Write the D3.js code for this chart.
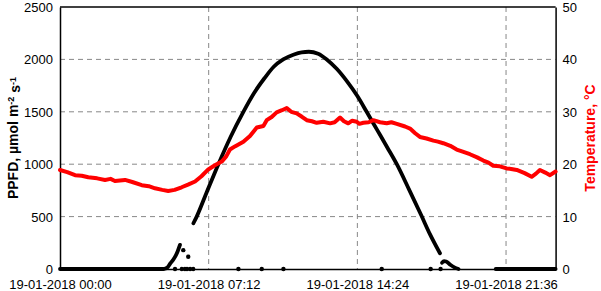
<!DOCTYPE html>
<html>
<head>
<meta charset="utf-8">
<script src="https://cdn.jsdelivr.net/npm/d3@7"></script>
<style>
  body { margin: 0; background: #fff; }
  text { font-family: Arial, "Liberation Sans", sans-serif; }
</style>
</head>
<body>
<div id="chart"></div>
<script>
// PPFD (black) - hours after midnight and values, split in the runs that are drawn joined
var nightHours1 = [0, 5.0];
var nightValues1 = [0, 0];
var riseHours = [5.0, 5.2, 5.33, 5.45, 5.57, 5.7, 5.81];
var riseValues = [0, 15, 50, 80, 115, 170, 230];
var dayHours = [6.46, 6.62, 7.1, 7.67, 8.26, 8.88, 9.4, 9.9, 10.35, 10.81, 11.3, 11.7, 12.05, 12.5, 12.92, 13.4, 13.9, 14.4, 14.85, 15.35, 15.85, 16.31, 16.9, 17.5, 17.92, 18.4];
var dayValues = [436, 500, 730, 1000, 1260, 1500, 1680, 1820, 1930, 2000, 2045, 2068, 2073, 2055, 2000, 1910, 1790, 1650, 1500, 1330, 1160, 1000, 760, 510, 330, 150];
var bumpHours = [18.5, 18.6, 18.7, 18.9, 19.1, 19.3];
var bumpValues = [60, 75, 72, 40, 15, 0];
var nightHours2 = [21.1, 24];
var nightValues2 = [0, 0];
// single logged points
var dotHours = [5.57, 5.9, 5.97, 6.05, 6.15, 6.21, 6.3, 6.45, 8.64, 9.77, 10.82, 15.58, 17.95, 18.43];
var dotValues = [0, 0, 180, 0, 0, 117, 0, 0, 0, 0, 0, 0, 0, 0];

// Temperature (red)
var tempHours = [0.0, 0.35, 0.73, 1.05, 1.37, 1.8, 2.18, 2.45, 2.66, 2.9, 3.15, 3.5, 3.96, 4.3, 4.6, 4.95, 5.24, 5.55, 5.89, 6.2, 6.54, 6.85, 7.18, 7.5, 7.83, 8.05, 8.23, 8.47, 8.88, 9.2, 9.53, 9.85, 10.01, 10.25, 10.49, 10.75, 10.98, 11.2, 11.46, 11.7, 11.95, 12.2, 12.43, 12.75, 13.08, 13.3, 13.56, 13.75, 13.96, 14.15, 14.37, 14.5, 14.69, 14.95, 15.17, 15.5, 15.82, 16.05, 16.31, 16.71, 16.95, 17.2, 17.43, 17.75, 18.08, 18.3, 18.56, 18.9, 19.21, 19.5, 19.85, 20.2, 20.5, 20.75, 20.98, 21.3, 21.63, 21.85, 22.12, 22.5, 22.84, 23.05, 23.24, 23.5, 23.73, 24.0];
var tempValues = [18.9, 18.5, 17.9, 17.8, 17.5, 17.3, 17.0, 17.2, 16.8, 16.9, 17.0, 16.6, 16.0, 15.8, 15.4, 15.1, 14.9, 15.1, 15.6, 16.1, 16.7, 17.7, 19.0, 19.8, 20.5, 21.5, 22.8, 23.4, 24.3, 25.4, 27.0, 27.3, 28.4, 29.0, 29.9, 30.3, 30.7, 30.0, 29.7, 29.1, 28.4, 28.2, 27.9, 28.1, 27.8, 28.0, 28.9, 28.2, 27.8, 28.3, 28.1, 27.7, 27.9, 28.0, 28.4, 28.0, 27.8, 28.0, 27.7, 27.2, 26.8, 25.9, 25.2, 24.9, 24.5, 24.3, 24.0, 23.5, 22.8, 22.4, 21.9, 21.3, 20.7, 20.3, 19.7, 19.6, 19.2, 19.1, 18.9, 18.3, 17.6, 18.2, 18.9, 18.4, 17.9, 18.6];

// axis ticks
var ppfdTicks = [0, 500, 1000, 1500, 2000, 2500];
var tempTicks = [0, 10, 20, 30, 40, 50];
var timeTickHours = [0, 7.2, 14.4, 21.6];

var svgWidth = 601;
var svgHeight = 291;

var margin = {
  top: 7,
  right: 45,
  bottom: 22,
  left: 60
};

var width = 555.6 - margin.left;
var height = 269 - margin.top;

var day = new Date(2018, 0, 19, 0, 0);
function toDate(h) {
  return new Date(day.getTime() + h * 3600 * 1000);
}

var svg = d3.select("#chart")
  .append("svg")
  .attr("width", svgWidth)
  .attr("height", svgHeight);

var chartGroup = svg.append("g")
  .attr("transform", `translate(${margin.left}, ${margin.top})`);

var xScale = d3.scaleTime()
  .domain([toDate(0), toDate(24)])
  .range([0, width]);

var yLeft = d3.scaleLinear()
  .domain([0, 2500])
  .range([height, 0]);

var yRight = d3.scaleLinear()
  .domain([0, 50])
  .range([height, 0]);

// grid
chartGroup.selectAll(".hgrid")
  .data(ppfdTicks.slice(1, -1))
  .enter()
  .append("line")
  .attr("x1", 0)
  .attr("x2", width)
  .attr("y1", d => yLeft(d))
  .attr("y2", d => yLeft(d))
  .attr("stroke", "#888")
  .attr("stroke-width", 1)
  .attr("stroke-dasharray", "5,4");

chartGroup.selectAll(".vgrid")
  .data(timeTickHours.slice(1))
  .enter()
  .append("line")
  .attr("x1", d => xScale(toDate(d)))
  .attr("x2", d => xScale(toDate(d)))
  .attr("y1", 0)
  .attr("y2", height)
  .attr("stroke", "#888")
  .attr("stroke-width", 1)
  .attr("stroke-dasharray", "5,4");

// axes
var bottomAxis = d3.axisBottom(xScale)
  .tickValues(timeTickHours.map(toDate))
  .tickFormat(d3.timeFormat("%d-%m-%Y %H:%M"))
  .tickSize(0)
  .tickPadding(11);

var leftAxis = d3.axisLeft(yLeft)
  .tickValues(ppfdTicks)
  .tickFormat(d3.format("d"))
  .tickSize(0)
  .tickPadding(7);

var rightAxis = d3.axisRight(yRight)
  .tickValues(tempTicks)
  .tickFormat(d3.format("d"))
  .tickSize(0)
  .tickPadding(7);

var gx = chartGroup.append("g")
  .attr("transform", `translate(0, ${height})`)
  .call(bottomAxis);

var gl = chartGroup.append("g")
  .call(leftAxis);

var gr = chartGroup.append("g")
  .attr("transform", `translate(${width}, 0)`)
  .call(rightAxis);

[gx, gl, gr].forEach(function (g) {
  g.select(".domain").attr("stroke", "#000").attr("stroke-width", 1.5);
  g.selectAll("text")
    .style("font-size", "13px")
    .style("font-family", "Arial, 'Liberation Sans', sans-serif")
    .attr("fill", "#000");
});
gl.selectAll(".tick text").attr("dy", "0.34em");
gr.selectAll(".tick text").attr("dy", "0.34em");

// top border
chartGroup.append("line")
  .attr("x1", 0)
  .attr("x2", width)
  .attr("y1", 0)
  .attr("y2", 0)
  .attr("stroke", "#000")
  .attr("stroke-width", 1.5);

// PPFD lines
var ppfdLine = d3.line()
  .x(d => xScale(toDate(d[0])))
  .y(d => yLeft(d[1]))
  .curve(d3.curveMonotoneX);

function zip(a, b) {
  return a.map((h, i) => [h, b[i]]);
}

var ppfdRuns = [
  zip(nightHours1, nightValues1),
  zip(riseHours, riseValues),
  zip(dayHours, dayValues),
  zip(bumpHours, bumpValues),
  zip(nightHours2, nightValues2)
];

chartGroup.selectAll(".ppfd")
  .data(ppfdRuns)
  .enter()
  .append("path")
  .attr("d", ppfdLine)
  .attr("fill", "none")
  .attr("stroke", "#000")
  .attr("stroke-width", 3.8)
  .attr("stroke-linecap", "round")
  .attr("stroke-linejoin", "round");

chartGroup.selectAll(".dot")
  .data(zip(dotHours, dotValues))
  .enter()
  .append("circle")
  .attr("cx", d => xScale(toDate(d[0])))
  .attr("cy", d => yLeft(d[1]))
  .attr("r", 2.2)
  .attr("fill", "#000");

// temperature
var tempLine = d3.line()
  .x(d => xScale(toDate(d[0])))
  .y(d => yRight(d[1]))
  .curve(d3.curveLinear);

chartGroup.append("path")
  .datum(zip(tempHours, tempValues))
  .attr("d", tempLine)
  .attr("fill", "none")
  .attr("stroke", "#ff0000")
  .attr("stroke-width", 4)
  .attr("stroke-linecap", "round")
  .attr("stroke-linejoin", "round");

// axis titles
var leftTitle = svg.append("text")
  .attr("transform", `translate(18, ${margin.top + height / 2}) rotate(-90)`)
  .attr("text-anchor", "middle")
  .style("font-size", "14px")
  .style("font-weight", "bold")
  .attr("fill", "#000");
leftTitle.append("tspan").text("PPFD, µmol m");
leftTitle.append("tspan").attr("dy", "-0.45em").style("font-size", "9px").text("-2");
leftTitle.append("tspan").attr("dy", "0.45em").text(" s");
leftTitle.append("tspan").attr("dy", "-0.45em").style("font-size", "9px").text("-1");

svg.append("text")
  .attr("transform", `translate(595, ${margin.top + height / 2}) rotate(-90)`)
  .attr("text-anchor", "middle")
  .style("font-size", "14px")
  .style("font-weight", "bold")
  .attr("fill", "#ff0000")
  .text("Temperature, °C");
</script>
</body>
</html>
